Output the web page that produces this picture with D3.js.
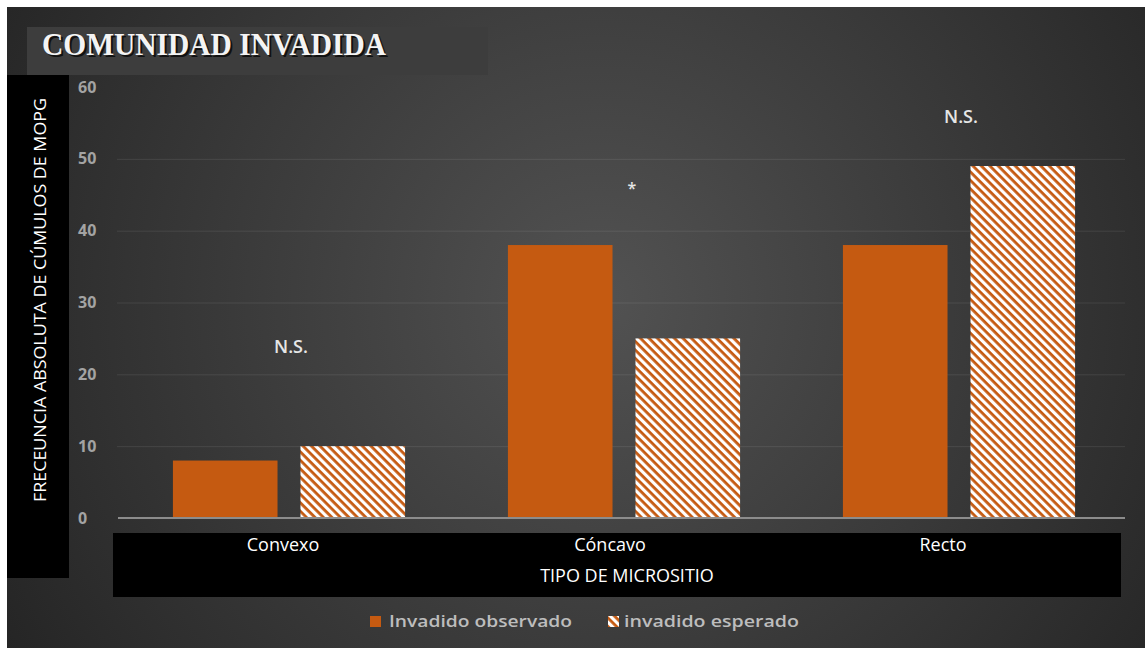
<!DOCTYPE html>
<html>
<head>
<meta charset="utf-8">
<script src="https://cdn.jsdelivr.net/npm/d3@7"></script>
<style>
  html, body { margin: 0; padding: 0; background: #fff; }
  svg { display: block; }
</style>
</head>
<body>
<div class="chartBox"></div>
<script>
// datos del gráfico
var categorias = ["Convexo", "Cóncavo", "Recto"];
var series = ["Invadido observado", "invadido esperado"];
var observado = [8, 38, 38];
var esperado = [10, 25, 49];
var marcas = ["N.S.", "*", "N.S."];
var marcaValor = [24, 46, 56];
var ticksY = [0, 10, 20, 30, 40, 50, 60];

var W = 1145, H = 648;
var naranja = "#c55a11";

var svg = d3.select(".chartBox").append("svg")
    .attr("width", W)
    .attr("height", H);

var defs = svg.append("defs");

// fondo degradado
var grad = defs.append("radialGradient")
    .attr("id", "fondo")
    .attr("gradientUnits", "userSpaceOnUse")
    .attr("cx", 600).attr("cy", 300).attr("r", 720);
grad.append("stop").attr("offset", "0%").attr("stop-color", "#525252");
grad.append("stop").attr("offset", "100%").attr("stop-color", "#232323");

// rayado diagonal para "esperado"
var pat = defs.append("pattern")
    .attr("id", "rayas")
    .attr("patternUnits", "userSpaceOnUse")
    .attr("width", 6).attr("height", 6)
    .attr("patternTransform", "rotate(45)");
pat.append("rect").attr("width", 6).attr("height", 6).attr("fill", "#fff");
pat.append("rect").attr("width", 6).attr("height", 2.8).attr("fill", naranja);

svg.append("rect")
    .attr("x", 7).attr("y", 7)
    .attr("width", W - 7).attr("height", H - 7)
    .attr("fill", "url(#fondo)");

// caja del título
svg.append("rect")
    .attr("x", 27).attr("y", 27)
    .attr("width", 461).attr("height", 48)
    .attr("fill", "#3d3d3d");
svg.append("text")
    .attr("x", 44).attr("y", 57)
    .attr("font-family", "Liberation Serif, serif")
    .attr("font-weight", "bold")
    .attr("font-size", 32)
    .attr("textLength", 344)
    .attr("lengthAdjust", "spacingAndGlyphs")
    .attr("fill", "#111")
    .text("COMUNIDAD INVADIDA");
svg.append("text")
    .attr("x", 42).attr("y", 55)
    .attr("font-family", "Liberation Serif, serif")
    .attr("font-weight", "bold")
    .attr("font-size", 32)
    .attr("textLength", 344)
    .attr("lengthAdjust", "spacingAndGlyphs")
    .attr("fill", "#f4f4f4")
    .text("COMUNIDAD INVADIDA");

// cajas negras de los títulos de eje
svg.append("rect")
    .attr("x", 7).attr("y", 75)
    .attr("width", 62).attr("height", 503)
    .attr("fill", "#000");
svg.append("rect")
    .attr("x", 113).attr("y", 533)
    .attr("width", 1008).attr("height", 64)
    .attr("fill", "#000");

// escalas
var y = d3.scaleLinear().domain([0, 60]).range([518, 87]);

var x0 = d3.scaleBand()
    .domain(categorias)
    .range([121.5, 1126.5])
    .paddingInner(0.307)
    .paddingOuter(0.1535);

var x1 = d3.scaleBand()
    .domain(series)
    .range([0, x0.bandwidth()])
    .paddingInner(0.18);

// líneas de cuadrícula
svg.append("g")
    .attr("transform", "translate(117,0)")
    .call(d3.axisRight(y).tickValues(ticksY.slice(1, -1)).tickSize(1008).tickFormat(""))
    .call(function(g) {
        g.select(".domain").remove();
        g.selectAll("line").attr("stroke", "#fff").attr("stroke-opacity", 0.09);
    });

// etiquetas del eje Y
svg.append("g")
    .attr("transform", "translate(76,0)")
    .call(d3.axisRight(y).tickValues(ticksY).tickSize(0).tickPadding(2))
    .call(function(g) {
        g.select(".domain").remove();
        g.selectAll("text")
            .attr("fill", "#a3a3a3")
            .attr("font-family", "Open Sans, sans-serif")
            .attr("font-weight", "bold")
            .attr("font-size", 16);
    });

// barras
var filas = categorias.map(function(c, i) {
    return { cat: c, valores: [observado[i], esperado[i]] };
});

var grupo = svg.selectAll("g.grupo")
    .data(filas)
    .enter().append("g")
    .attr("class", "grupo")
    .attr("transform", function(d) { return "translate(" + x0(d.cat) + ",0)"; });

grupo.selectAll("rect")
    .data(function(d) {
        return series.map(function(s, j) { return { serie: s, v: d.valores[j] }; });
    })
    .enter().append("rect")
    .attr("x", function(d) { return x1(d.serie); })
    .attr("y", function(d) { return y(d.v); })
    .attr("width", x1.bandwidth())
    .attr("height", function(d) { return y(0) - y(d.v); })
    .attr("fill", function(d, j) { return j === 0 ? naranja : "url(#rayas)"; });

// línea del eje X
svg.append("line")
    .attr("x1", 118).attr("x2", 1125)
    .attr("y1", y(0)).attr("y2", y(0))
    .attr("stroke", "#8c8c8c")
    .attr("stroke-width", 2);

// marcas de significancia
svg.selectAll("text.marca")
    .data(marcas)
    .enter().append("text")
    .attr("class", "marca")
    .attr("x", function(d, i) { return x0(categorias[i]) + x0.bandwidth() / 2 + (i === 1 ? 8 : 2); })
    .attr("y", function(d, i) { return y(marcaValor[i]); })
    .attr("text-anchor", "middle")
    .attr("dominant-baseline", "central")
    .attr("fill", "#e6e6e6")
    .attr("font-family", "Open Sans, sans-serif")
    .attr("font-weight", "600")
    .attr("font-size", function(d) { return d === "*" ? 16 : 18; })
    .text(function(d) { return d; });

// etiquetas de categoría
svg.selectAll("text.cat")
    .data(categorias)
    .enter().append("text")
    .attr("class", "cat")
    .attr("x", function(d, i) { return x0(d) + x0.bandwidth() / 2 - [6, 14, 16][i]; })
    .attr("y", 551)
    .attr("text-anchor", "middle")
    .attr("fill", "#fff")
    .attr("font-family", "Open Sans, sans-serif")
    .attr("font-size", 18)
    .text(function(d) { return d; });

// títulos de eje
svg.append("text")
    .attr("x", 627).attr("y", 582)
    .attr("text-anchor", "middle")
    .attr("fill", "#fff")
    .attr("font-family", "Open Sans, sans-serif")
    .attr("font-size", 18)
    .text("TIPO DE MICROSITIO");

svg.append("text")
    .attr("transform", "translate(46,300) rotate(-90)")
    .attr("text-anchor", "middle")
    .attr("fill", "#fff")
    .attr("font-family", "Open Sans, sans-serif")
    .attr("font-weight", "500")
    .attr("font-size", 16)
    .attr("textLength", 404)
    .attr("lengthAdjust", "spacingAndGlyphs")
    .text("FRECEUNCIA ABSOLUTA DE CÚMULOS DE MOPG");

// leyenda
var leyX = [370, 608];
var ley = svg.selectAll("g.ley")
    .data(series)
    .enter().append("g")
    .attr("class", "ley")
    .attr("transform", function(d, i) { return "translate(" + leyX[i] + ",616)"; });
ley.append("rect")
    .attr("width", 11).attr("height", 11)
    .attr("fill", function(d, i) { return i === 0 ? naranja : "url(#rayas)"; });
ley.append("text")
    .attr("x", function(d, i) { return i === 0 ? 19 : 16; })
    .attr("y", 11)
    .attr("fill", "#bdbdbd")
    .attr("font-family", "Open Sans, sans-serif")
    .attr("font-weight", "600")
    .attr("font-size", 16)
    .attr("textLength", function(d, i) { return i === 0 ? 183 : 175; })
    .attr("lengthAdjust", "spacingAndGlyphs")
    .text(function(d) { return d; });
</script>
</body>
</html>
